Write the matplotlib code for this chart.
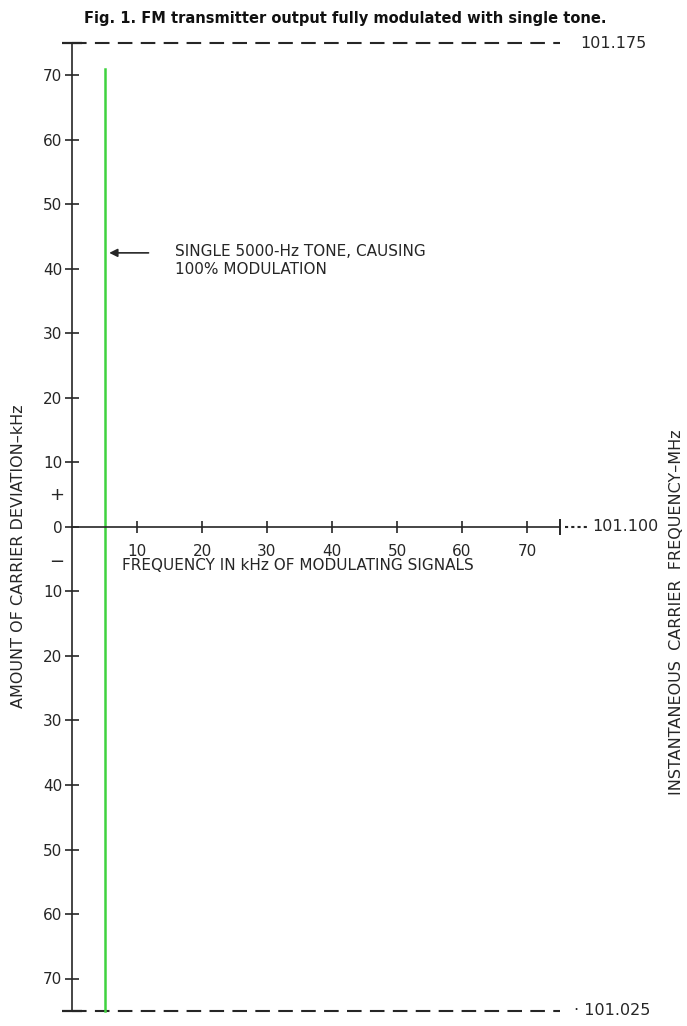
import matplotlib.pyplot as plt
import numpy as np

# deviation scale (kHz), symmetric about the carrier
dev_ticks = [-70, -60, -50, -40, -30, -20, -10, 0, 10, 20, 30, 40, 50, 60, 70]
freq_ticks = [10, 20, 30, 40, 50, 60, 70]
max_dev = 75
max_freq = 75

# single modulating tone
tone_freq = 5
tone_top = 71
tone_bottom = -75
arrow_level = 42.5

carrier_labels = ['101.175', '101.100', '101.025']

ink = '#262626'
green = '#3fd23f'

fig = plt.figure(figsize=(6.87, 10.26), dpi=100)
ax = fig.add_axes([0, 0, 1, 1])
ax.set_xlim(-72 / 6.5, (687 - 72) / 6.5)
ax.set_ylim(-(1026 - 527) / 6.45, 527 / 6.45)
ax.patch.set_alpha(0)

for side in ['top', 'right']:
    ax.spines[side].set_visible(False)
ax.spines['left'].set_position(('data', 0))
ax.spines['bottom'].set_position(('data', 0))
ax.spines['left'].set_bounds(-max_dev, max_dev)
ax.spines['bottom'].set_bounds(0, max_freq)
for side in ['left', 'bottom']:
    ax.spines[side].set_linewidth(1.2)
    ax.spines[side].set_color(ink)

ax.set_yticks(dev_ticks)
ax.set_yticklabels([str(abs(v)) for v in dev_ticks])
ax.set_yticks([-max_dev, max_dev], minor=True)
ax.set_xticks(freq_ticks)
ax.set_xticklabels([str(v) for v in freq_ticks])
ax.set_xticks([max_freq], minor=True)
ax.tick_params(axis='y', which='major', direction='inout', length=10, width=1.2,
               color=ink, labelsize=11, labelcolor=ink, pad=2)
ax.tick_params(axis='y', which='minor', direction='inout', length=14, width=1.6, color=ink)
ax.tick_params(axis='x', which='major', direction='inout', length=9, width=1.2,
               color=ink, labelsize=11, labelcolor=ink, pad=8)
ax.tick_params(axis='x', which='minor', direction='inout', length=12, width=1.4, color=ink)

# carrier swing limits
ax.hlines([max_dev, -max_dev], 0, max_freq, colors=ink, linewidth=1.5,
          linestyles=(0, (7, 4)))
ax.plot([max_freq + 0.8, max_freq + 4.4], [0, 0], color=ink, linewidth=1.5,
        linestyle=(0, (1.5, 1.5)))
ax.text(78.2, max_dev, carrier_labels[0], fontsize=11.5, color=ink, va='center')
ax.text(80.0, 0, carrier_labels[1], fontsize=11.5, color=ink, va='center')
ax.text(77.2, -max_dev, '\u00b7 ' + carrier_labels[2], fontsize=11.5, color=ink, va='center')

# tone
ax.plot([tone_freq, tone_freq], [tone_bottom, tone_top], color=green, linewidth=1.8)
ax.annotate('', xy=(tone_freq + 0.3, arrow_level), xytext=(12.2, arrow_level),
            arrowprops=dict(arrowstyle='-|>', color=ink, lw=1.2, mutation_scale=12))
ax.text(15.8, arrow_level + 1.3, 'SINGLE 5000-Hz TONE, CAUSING\n100% MODULATION',
        fontsize=11, color=ink, va='top', ha='left', linespacing=1.2)

ax.text(-2.3, 5, '+', fontsize=13, color=ink, ha='center', va='center')
ax.text(-2.3, -5.4, '\u2212', fontsize=13, color=ink, ha='center', va='center')

ax.text(7.7, -5.9, 'FREQUENCY IN kHz OF MODULATING SIGNALS', fontsize=11,
        color=ink, ha='left', va='center')
ax.text(-8.3, -4.6, 'AMOUNT OF CARRIER DEVIATION\u2013kHz', fontsize=11.5,
        color=ink, rotation=90, ha='center', va='center')
ax.text(93.0, -13.2, 'INSTANTANEOUS  CARRIER  FREQUENCY\u2013MHz', fontsize=11.5,
        color=ink, rotation=90, ha='center', va='center')

fig.text(345 / 687, 1 - 18 / 1026,
         'Fig. 1. FM transmitter output fully modulated with single tone.',
         fontsize=10.5, fontweight='bold', color='#111111', ha='center', va='center')

fig.savefig('out.png', dpi=100, facecolor='white')
